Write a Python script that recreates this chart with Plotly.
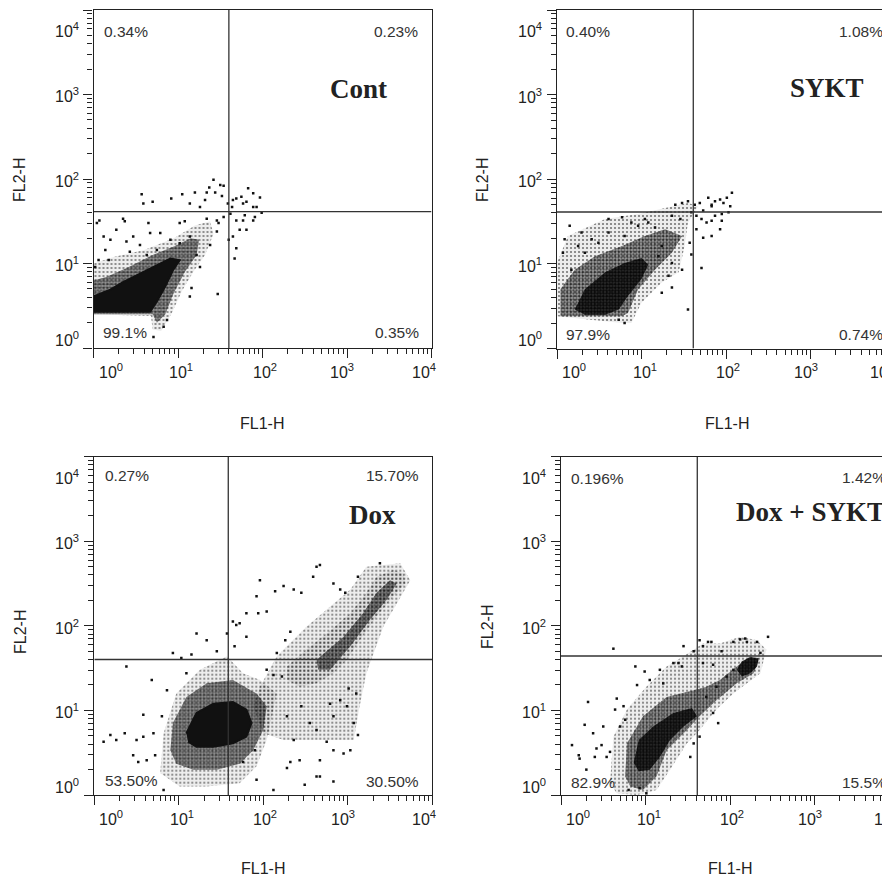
import numpy as np
import plotly.graph_objects as go

# The page body adds an 8 px margin, so the figure is drawn 8 px smaller and
# every pixel position (measured on the 890x881 reference) is shifted by it.
PAGE_W, PAGE_H, BODY = 890, 881, 8
FW, FH = PAGE_W - BODY, PAGE_H - BODY

# ---------------- data ----------------
panel_names = ["Cont", "SYKT", "Dox", "Dox + SYKT"]
quad_fl1 = [40, 41, 38.5, 41]          # vertical quadrant gate (FL1-H)
quad_fl2 = [41, 41, 40, 44]            # horizontal quadrant gate (FL2-H)
pct_ul = ["0.34%", "0.40%", "0.27%", "0.196%"]
pct_ur = ["0.23%", "1.08%", "15.70%", "1.42%"]
pct_ll = ["99.1%", "97.9%", "53.50%", "82.9%"]
pct_lr = ["0.35%", "0.74%", "30.50%", "15.5%"]
tick_exp = [0, 1, 2, 3, 4]
tick_text = ["10<sup>0</sup>", "10<sup>1</sup>", "10<sup>2</sup>", "10<sup>3</sup>", "10<sup>4</sup>"]

# density regions (log10 FL1-H, log10 FL2-H)
cont_core = [(0.0, 0.43), (0.67, 0.43), (0.75, 0.55), (0.85, 0.73), (0.94, 0.92), (1.02, 1.04), (0.91, 1.06),
             (0.75, 0.98), (0.55, 0.88), (0.35, 0.78), (0.20, 0.69), (0.0, 0.61)]
cont_mid = [(0.0, 0.40), (0.0, 0.80), (0.15, 0.84), (0.4, 0.95), (0.7, 1.10), (0.95, 1.20), (1.15, 1.30),
            (1.25, 1.28), (1.22, 1.10), (1.08, 0.90), (0.95, 0.65), (0.85, 0.40), (0.75, 0.30), (0.70, 0.40)]
cont_outer = [(0.0, 0.40), (0.0, 1.0), (0.25, 1.08), (0.6, 1.16), (0.95, 1.30), (1.2, 1.45), (1.38, 1.50),
              (1.42, 1.35), (1.32, 1.10), (1.18, 0.90), (1.05, 0.68), (0.92, 0.40), (0.80, 0.20), (0.70, 0.22),
              (0.68, 0.38)]
cont_events = [(0.57, 1.82), (0.59, 1.71), (0.70, 1.73), (0.92, 1.77), (1.05, 1.82), (1.14, 1.71), (1.20, 1.84),
               (1.26, 1.67), (1.32, 1.75), (1.34, 1.84), (1.37, 1.90), (1.42, 1.99), (1.44, 1.84), (1.50, 1.93),
               (1.54, 1.92), (1.52, 1.80), (1.59, 1.71), (1.65, 1.75), (1.69, 1.77), (1.75, 1.79), (1.77, 1.71),
               (1.81, 1.73), (1.83, 1.89), (1.89, 1.83), (1.97, 1.78), (1.93, 1.67), (1.99, 1.60), (1.64, 1.67),
               (0.04, 1.48), (0.07, 1.51), (0.35, 1.53), (0.37, 1.50), (0.65, 1.48), (0.67, 1.36), (0.79, 1.36),
               (1.02, 1.48), (1.08, 1.50), (1.34, 1.53), (1.46, 1.51), (1.48, 1.48), (1.54, 1.55), (1.62, 1.59),
               (1.69, 1.51), (1.77, 1.51), (1.79, 1.57), (1.89, 1.51), (1.91, 1.55), (1.89, 1.67), (1.73, 1.40),
               (1.81, 1.40), (1.65, 1.32), (1.69, 1.18), (1.67, 1.06), (1.60, 1.28), (1.46, 1.38), (1.47, 0.64),
               (1.38, 1.22), (1.22, 1.10), (1.26, 0.96), (1.16, 0.71), (1.14, 0.61), (0.87, 0.33), (0.83, 0.25),
               (0.71, 0.13), (0.12, 1.32), (0.14, 1.16), (0.20, 1.28), (0.27, 1.40), (0.39, 1.26), (0.47, 1.32),
               (0.55, 1.22), (0.02, 0.96), (0.06, 1.04), (0.18, 1.04), (0.43, 1.14), (0.63, 1.10), (0.75, 1.16),
               (0.91, 1.28), (1.02, 1.24), (1.14, 1.32)]

sykt_core = [(0.21, 0.46), (0.33, 0.70), (0.57, 0.90), (0.80, 1.01), (1.00, 1.07), (1.08, 0.99), (1.00, 0.82),
             (0.84, 0.62), (0.73, 0.46), (0.57, 0.40), (0.33, 0.40)]
sykt_mid = [(0.04, 0.38), (0.04, 0.70), (0.21, 0.93), (0.45, 1.09), (0.77, 1.21), (1.04, 1.33), (1.28, 1.41),
            (1.48, 1.33), (1.36, 1.13), (1.16, 0.93), (0.96, 0.70), (0.84, 0.42), (0.77, 0.38)]
sykt_outer = [(0.0, 0.38), (0.0, 1.01), (0.13, 1.33), (0.57, 1.53), (0.96, 1.59), (1.28, 1.66), (1.55, 1.72),
              (1.67, 1.68), (1.55, 1.49), (1.51, 1.21), (1.44, 0.90), (1.24, 0.78), (1.00, 0.54), (0.88, 0.30),
              (0.77, 0.30)]
sykt_events = [(1.40, 1.70), (1.48, 1.72), (1.55, 1.74), (1.63, 1.70), (1.69, 1.72), (1.79, 1.78), (1.83, 1.70),
               (1.87, 1.74), (1.93, 1.76), (1.97, 1.72), (2.01, 1.78), (2.05, 1.68), (2.07, 1.84), (2.03, 1.61),
               (1.95, 1.59), (1.83, 1.68), (1.73, 1.63), (1.59, 1.61), (1.65, 1.57), (1.71, 1.53), (1.77, 1.49),
               (1.83, 1.51), (1.87, 1.57), (1.93, 1.41), (1.95, 1.51), (1.73, 1.31), (1.83, 1.33), (1.71, 0.95),
               (1.65, 1.41), (0.15, 1.45), (0.29, 1.37), (0.61, 1.53), (0.77, 1.55), (0.09, 1.29), (0.07, 1.13),
               (0.25, 1.21), (0.41, 1.29), (0.88, 1.49), (1.04, 1.53), (1.16, 1.43), (1.32, 0.86), (1.36, 0.72),
               (1.24, 0.66), (1.48, 0.93), (1.59, 1.11), (1.57, 1.25), (1.55, 0.46), (0.80, 0.30), (0.73, 0.34),
               (0.61, 1.37), (0.80, 1.33), (0.96, 1.45), (0.49, 1.25), (0.33, 1.13), (0.17, 0.93), (1.08, 1.49),
               (1.36, 1.57), (1.46, 1.53), (1.24, 1.21), (1.36, 1.01), (1.20, 1.09)]

dox_core = [(1.09, 0.73), (1.21, 0.97), (1.41, 1.08), (1.64, 1.10), (1.80, 1.01), (1.86, 0.85), (1.80, 0.69),
            (1.64, 0.61), (1.41, 0.57), (1.21, 0.57), (1.11, 0.63)]
dox_mid = [(0.90, 0.53), (0.93, 0.85), (1.09, 1.16), (1.33, 1.32), (1.64, 1.36), (1.92, 1.20), (2.04, 1.05),
           (2.00, 0.77), (1.88, 0.53), (1.72, 0.37), (1.45, 0.30), (1.17, 0.30), (0.97, 0.37)]
dox_outer = [(0.78, 0.26), (0.82, 0.73), (0.97, 1.20), (1.25, 1.48), (1.57, 1.64), (1.76, 1.44), (1.96, 1.36),
             (2.16, 1.20), (2.04, 0.65), (1.92, 0.34), (1.72, 0.14), (1.33, 0.10), (1.01, 0.10)]
dox_band_core = [(2.63, 1.60), (2.95, 1.87), (3.18, 2.15), (3.34, 2.39), (3.50, 2.54), (3.58, 2.50), (3.46, 2.31),
                 (3.26, 2.07), (3.03, 1.76), (2.79, 1.48), (2.65, 1.48)]
dox_band_mid = [(2.28, 1.52), (2.51, 1.72), (2.75, 1.91), (3.03, 2.15), (3.22, 2.39), (3.34, 2.58), (3.54, 2.66),
                (3.66, 2.62), (3.68, 2.50), (3.54, 2.35), (3.34, 2.11), (3.14, 1.83), (2.99, 1.60), (2.83, 1.44),
                (2.63, 1.32), (2.43, 1.28), (2.28, 1.36)]
dox_band_outer = [(1.88, 1.05), (1.96, 1.28), (2.16, 1.64), (2.51, 1.99), (3.03, 2.43), (3.22, 2.70), (3.62, 2.74),
                  (3.74, 2.54), (3.42, 1.99), (3.22, 1.44), (3.14, 1.05), (3.07, 0.65), (2.63, 0.65), (2.24, 0.65),
                  (2.00, 0.73)]
dox_events = [(0.11, 0.63), (0.19, 0.71), (0.26, 0.65), (0.36, 0.73), (0.38, 1.52), (0.46, 0.47), (0.50, 0.65),
              (0.52, 0.39), (0.58, 0.69), (0.58, 0.95), (0.62, 0.41), (0.68, 1.36), (0.70, 0.73), (0.72, 0.47),
              (0.80, 0.93), (0.82, 0.06), (0.86, 1.24), (0.93, 1.68), (1.03, 1.62), (1.09, 1.44), (1.15, 1.66),
              (1.21, 1.91), (1.33, 1.83), (1.45, 1.70), (1.57, 1.91), (1.64, 2.05), (1.66, 1.76), (1.68, 2.01),
              (1.72, 2.03), (1.80, 1.87), (1.80, 2.15), (1.92, 2.35), (1.94, 2.15), (1.96, 2.54), (2.04, 2.17),
              (2.14, 2.41), (2.24, 2.47), (2.36, 2.43), (2.45, 2.39), (2.59, 2.58), (2.63, 2.70), (2.67, 2.72),
              (2.83, 2.50), (2.91, 2.43), (2.97, 2.39), (3.38, 2.74), (3.12, 2.58), (2.32, 1.93), (2.26, 1.83),
              (2.16, 1.68), (2.04, 1.48), (2.12, 1.42), (2.22, 1.40), (2.43, 0.41), (2.67, 0.41), (2.83, 0.16),
              (2.95, 0.49), (3.03, 0.53), (3.12, 0.71), (2.83, 0.53), (2.75, 0.63), (2.49, 0.12), (2.63, 0.22),
              (2.32, 0.39), (2.28, 0.32), (2.12, 0.06), (1.92, 0.18), (1.76, 0.39), (1.90, 0.53), (2.55, 0.85),
              (2.36, 0.65), (3.07, 0.85), (2.99, 1.05), (2.83, 0.93), (2.67, 0.22), (3.10, 1.20), (3.01, 1.26),
              (2.91, 1.12), (2.79, 1.08), (2.45, 1.05), (2.28, 0.93), (2.63, 0.77)]

dsk_core = [(0.86, 0.38), (0.92, 0.65), (1.09, 0.81), (1.33, 0.97), (1.55, 1.03), (1.61, 0.93), (1.45, 0.81),
            (1.29, 0.65), (1.17, 0.45), (1.05, 0.30), (0.92, 0.28)]
dsk_top = [(2.08, 1.48), (2.14, 1.58), (2.24, 1.63), (2.34, 1.62), (2.32, 1.52), (2.24, 1.44), (2.14, 1.40)]
dsk_mid = [(0.76, 0.22), (0.78, 0.61), (0.97, 0.93), (1.25, 1.16), (1.57, 1.24), (1.72, 1.28), (1.88, 1.36),
           (2.08, 1.52), (2.24, 1.64), (2.34, 1.60), (2.28, 1.44), (2.08, 1.32), (1.84, 1.12), (1.64, 0.93),
           (1.49, 0.77), (1.25, 0.53), (1.13, 0.22), (0.97, 0.06), (0.82, 0.10)]
dsk_outer = [(0.58, 0.14), (0.62, 0.69), (0.78, 1.01), (1.01, 1.28), (1.25, 1.52), (1.45, 1.64), (1.68, 1.79),
             (1.88, 1.79), (2.12, 1.87), (2.32, 1.83), (2.43, 1.72), (2.36, 1.44), (2.04, 1.20), (1.84, 1.01),
             (1.64, 0.77), (1.49, 0.61), (1.29, 0.30), (1.13, 0.06), (0.90, 0.0), (0.66, 0.02)]
dsk_events = [(0.62, 1.73), (0.13, 0.59), (0.21, 0.47), (0.28, 0.83), (0.32, 1.10), (0.38, 0.73), (0.42, 0.55),
              (0.40, 0.45), (0.48, 0.59), (0.50, 0.81), (0.54, 0.45), (0.58, 0.51), (0.64, 1.01), (0.66, 1.14),
              (0.70, 0.81), (0.74, 1.05), (0.76, 0.89), (0.88, 1.52), (0.90, 1.30), (0.99, 1.46), (1.05, 1.36),
              (1.17, 1.48), (1.21, 1.32), (1.33, 1.56), (1.39, 1.56), (1.43, 1.52), (1.45, 1.76), (1.57, 1.70),
              (1.64, 1.83), (1.68, 1.76), (1.74, 1.81), (1.78, 1.81), (1.68, 1.56), (1.80, 1.54), (1.90, 1.70),
              (2.04, 1.81), (2.12, 1.84), (2.18, 1.85), (2.20, 1.81), (2.32, 1.81), (2.45, 1.87), (2.36, 1.68),
              (2.04, 1.48), (1.96, 1.40), (1.84, 1.28), (1.72, 1.16), (0.22, 0.43), (0.30, 0.30), (0.80, 0.06),
              (1.01, 0.02), (0.93, 0.08), (1.86, 0.85), (1.80, 0.97), (1.64, 0.69), (1.57, 0.61), (1.53, 0.45)]

panels = [
    dict(core=[cont_core], core_style="solid", mid=[cont_mid], outer=[cont_outer], events=cont_events),
    dict(core=[sykt_core], core_style="dense", mid=[sykt_mid], outer=[sykt_outer], events=sykt_events),
    dict(core=[dox_core], core_style="solid", mid=[dox_mid, dox_band_core],
         outer=[dox_outer, dox_band_mid, dox_band_outer], events=dox_events),
    dict(core=[dsk_core, dsk_top], core_style="dense", mid=[dsk_mid], outer=[dsk_outer], events=dsk_events),
]

# ---------------- layout geometry (reference pixels) ----------------
def px_x(p):
    return (p - BODY) / FW

def px_y(p):
    return 1 - (p - BODY) / FH

# (left, right, top, bottom) in reference pixels, x-range upper log limit
geom = [
    (93.5, 431.5, 10, 348, 4.0),
    (557, 890, 10, 348.5, (890 - 557) / 84.5),
    (94.3, 432.3, 456.7, 795, 4.0),
    (561, 890, 456.7, 795, (890 - 561) / 84.5),
]
# small offsets of the printed tick labels relative to their ticks (px)
xlab_shift = [17, 3, 2, -5, -8]
xlab_shift_cut = [17, 3, 2, -5, -13]   # right-hand panels (last label at the page edge)
ylab_shift = [9, -1, -1, -1, -20]

fig = go.Figure()

def xy(pairs):
    a = np.array(pairs, dtype=float)
    return np.power(10.0, a[:, 0]), np.power(10.0, a[:, 1])

minor_vals = [m * 10 ** d for d in range(0, 4) for m in range(2, 10)]

level_style = {
    "outer": dict(bg="rgba(0,0,0,0.07)", size=4, solidity=0.22),
    "mid": dict(bg="rgba(0,0,0,0.36)", size=3, solidity=0.45),
    "dense": dict(bg="rgba(0,0,0,0.70)", size=3, solidity=0.6),
}

def add_region(poly, level, xa, ya):
    x, y = xy(poly)
    s = level_style[level]
    fig.add_trace(go.Scatter(x=x, y=y, fill="toself", mode="none", xaxis=xa, yaxis=ya,
                             fillcolor=s["bg"],
                             fillpattern=dict(shape=".", fgcolor="#000", bgcolor=s["bg"],
                                              size=s["size"], solidity=s["solidity"]),
                             hoverinfo="skip", showlegend=False))

tick_font = dict(family="Liberation Sans, Arial", size=16, color="#222")
annotations = []

for i in range(4):
    xa = "x" if i == 0 else f"x{i+1}"
    ya = "y" if i == 0 else f"y{i+1}"
    p = panels[i]
    for poly in p["outer"]:
        add_region(poly, "outer", xa, ya)
    for poly in p["mid"]:
        add_region(poly, "mid", xa, ya)
    for poly in p["core"]:
        if p["core_style"] == "solid":
            x, y = xy(poly)
            fig.add_trace(go.Scatter(x=x, y=y, fill="toself", mode="lines", xaxis=xa, yaxis=ya,
                                     line=dict(color="#111", width=2), fillcolor="#111",
                                     hoverinfo="skip", showlegend=False))
        else:
            add_region(poly, "dense", xa, ya)
    x, y = xy(p["events"])
    fig.add_trace(go.Scatter(x=x, y=y, mode="markers", xaxis=xa, yaxis=ya,
                             marker=dict(symbol="square", size=2.5, color="#111", line=dict(width=0)),
                             hoverinfo="skip", showlegend=False))
    # quadrant gates
    fig.add_trace(go.Scatter(x=[quad_fl1[i], quad_fl1[i]], y=[1, 10000], mode="lines", xaxis=xa, yaxis=ya,
                             line=dict(color="#333", width=1.3), hoverinfo="skip", showlegend=False))
    fig.add_trace(go.Scatter(x=[1, 10000], y=[quad_fl2[i], quad_fl2[i]], mode="lines", xaxis=xa, yaxis=ya,
                             line=dict(color="#333", width=1.3), hoverinfo="skip", showlegend=False))

    l, r, t, b, xr = geom[i]
    axis_common = dict(type="log", showgrid=False, zeroline=False, showline=True, linecolor="#222", linewidth=1.3,
                       ticks="outside", tickcolor="#222", tickwidth=1.3, ticklen=9, automargin=False,
                       tickvals=[10 ** e for e in tick_exp], showticklabels=False,
                       minor=dict(ticks="outside", ticklen=5, tickwidth=1, tickcolor="#222",
                                  tickmode="array", tickvals=minor_vals, showgrid=False))
    xkey = "xaxis" if i == 0 else f"xaxis{i+1}"
    ykey = "yaxis" if i == 0 else f"yaxis{i+1}"
    fig.layout[xkey] = dict(axis_common, domain=[px_x(l), min(px_x(r), 1.0)], range=[0, xr],
                            anchor=ya, mirror=True)
    fig.layout[ykey] = dict(axis_common, domain=[px_y(b), px_y(t)], range=[0, 4],
                            anchor=xa, mirror=(i in (0, 2)))

    shifts = xlab_shift if i in (0, 2) else xlab_shift_cut
    # tick labels at the tick values (fraction of the axis range on log axes)
    for k, e in enumerate(tick_exp):
        annotations.append(dict(text=tick_text[k], xref=f"{xa} domain", x=e / xr, yref=f"{ya} domain", y=0,
                                xanchor="center", yanchor="top", xshift=shifts[k], yshift=-11,
                                showarrow=False, font=tick_font))
        annotations.append(dict(text=tick_text[k], xref=f"{xa} domain", x=0, yref=f"{ya} domain", y=e / 4,
                                xanchor="right", yanchor="middle", xshift=-13, yshift=ylab_shift[k],
                                showarrow=False, font=tick_font))

# ---------------- text annotations ----------------
pct_font = dict(family="Liberation Sans, Arial", size=15.5, color="#333")
title_font = dict(family="Liberation Serif, Times New Roman", size=27, color="#222")
lab_font = dict(family="Liberation Sans, Arial", size=16, color="#222")

ann_pos = [
    dict(ul=(102, 31), ur=(420, 31), ll=(101, 332), lr=(421, 332), title=(358, 89), fl1=(262, 423), fl2=(20, 180)),
    dict(ul=(564, 31), ur=(885, 31), ll=(564, 334), lr=(885, 334), title=(827, 88), fl1=(727, 423), fl2=(483, 180)),
    dict(ul=(103, 475), ur=(421, 475), ll=(103, 780), lr=(421, 781), title=(372, 515), fl1=(263, 868), fl2=(20, 632)),
    dict(ul=(569, 478), ur=(888, 477), ll=(569, 782), lr=(888, 782), title=(810, 512), fl1=(730, 868), fl2=(487, 627)),
]
for i in range(4):
    a = ann_pos[i]
    for key, txt, anchor in (("ul", pct_ul[i], "left"), ("ur", pct_ur[i], "right"),
                             ("ll", pct_ll[i], "left"), ("lr", pct_lr[i], "right")):
        annotations.append(dict(text=txt, x=px_x(a[key][0]), y=px_y(a[key][1]), xref="paper", yref="paper",
                                xanchor=anchor, yanchor="middle", showarrow=False, font=pct_font))
    annotations.append(dict(text="<b>" + panel_names[i] + "</b>", x=px_x(a["title"][0]), y=px_y(a["title"][1]),
                            xref="paper", yref="paper", xanchor="center", yanchor="middle", showarrow=False,
                            font=title_font))
    annotations.append(dict(text="FL1-H", x=px_x(a["fl1"][0]), y=px_y(a["fl1"][1]), xref="paper", yref="paper",
                            xanchor="center", yanchor="middle", showarrow=False, font=lab_font))
    annotations.append(dict(text="FL2-H", x=px_x(a["fl2"][0]), y=px_y(a["fl2"][1]), xref="paper", yref="paper",
                            xanchor="center", yanchor="middle", showarrow=False, font=lab_font, textangle=-90))

fig.update_layout(width=FW, height=FH, margin=dict(l=0, r=0, t=0, b=0, autoexpand=False), paper_bgcolor="white",
                  plot_bgcolor="white", annotations=annotations, showlegend=False)

fig.write_html("out.html")
